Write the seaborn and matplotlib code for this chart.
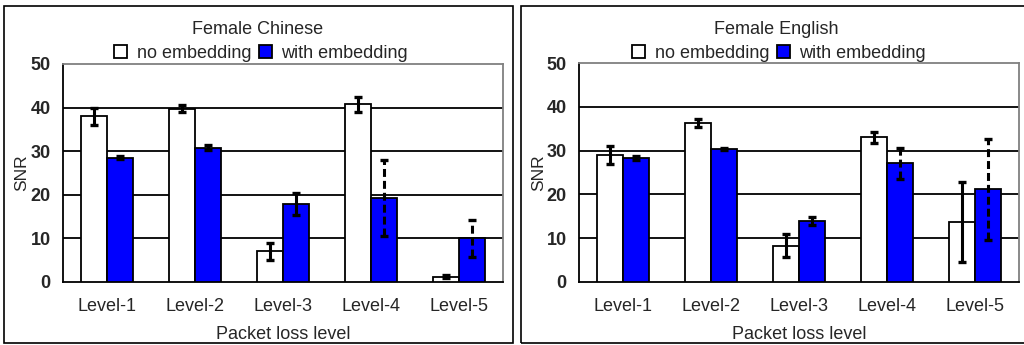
import numpy as np
import pandas as pd
import matplotlib
matplotlib.use("Agg")
import matplotlib.pyplot as plt
from matplotlib.patches import Rectangle, Patch
from matplotlib.ticker import FixedLocator
import seaborn as sns

# ---- data ----
levels = ["Level-1", "Level-2", "Level-3", "Level-4", "Level-5"]
conditions = ["no embedding", "with embedding"]

chinese_no = [38.0, 39.7, 7.0, 40.8, 1.2]
chinese_no_err = [2.0, 0.8, 2.0, 1.7, 0.3]
chinese_with = [28.5, 30.8, 17.9, 19.3, 10.0]
chinese_with_err = [0.4, 0.6, 2.5, 8.7, 4.2]
chinese_with_dashed = [False, False, False, True, True]

english_no = [29.0, 36.3, 8.3, 33.0, 13.7]
english_no_err = [2.1, 0.9, 2.7, 1.2, 9.2]
english_with = [28.3, 30.4, 13.9, 27.1, 21.2]
english_with_err = [0.5, 0.2, 0.9, 3.5, 11.5]
english_with_dashed = [False, False, False, True, True]

titles = ["Female Chinese", "Female English"]
colors = {"no embedding": "#FFFFFF", "with embedding": "#0000FF"}

sns.set_style("white")
plt.rcParams["font.family"] = ["Liberation Sans", "DejaVu Sans"]
FS = 13

W, H = 1024, 345
fig = plt.figure(figsize=(W / 100, H / 100), dpi=100)


def px_axes(x0, y0, x1, y1):
    return fig.add_axes([x0 / W, 1 - y1 / H, (x1 - x0) / W, (y1 - y0) / H])


def draw_panel(ax, no, no_err, wi, wi_err, wi_dashed):
    df = pd.DataFrame({
        "level": levels * 2,
        "cond": [conditions[0]] * len(levels) + [conditions[1]] * len(levels),
        "snr": list(no) + list(wi),
    })
    sns.barplot(data=df, x="level", y="snr", hue="cond", order=levels,
                hue_order=conditions, palette=colors, saturation=1,
                edgecolor="black", linewidth=1.3, width=0.58, errorbar=None,
                legend=False, ax=ax, zorder=3)

    errs = [(no_err, [False] * len(levels)), (wi_err, wi_dashed)]
    for cont, (err, dashed) in zip(ax.containers, errs):
        for bar, e, d in zip(cont, err, dashed):
            xc = bar.get_x() + bar.get_width() / 2
            yv = bar.get_height()
            _, caps, cols = ax.errorbar(xc, yv, yerr=e, fmt="none",
                                        ecolor="black", elinewidth=2.2,
                                        capsize=3.2, capthick=2.4, zorder=4)
            if d:
                cols[0].set_linestyle((0, (2.6, 1.3)))

    ax.set_xlim(-0.5, len(levels) - 0.5)
    ax.set_ylim(0, 50)
    ax.set_yticks([0, 10, 20, 30, 40, 50])
    ax.set_yticklabels(["0", "10", "20", "30", "40", "50"],
                       fontweight="bold", fontsize=FS)
    ax.tick_params(axis="y", length=0, pad=9)
    ax.tick_params(axis="x", which="major", length=0, pad=11.5, labelsize=FS)
    ax.xaxis.set_minor_locator(FixedLocator(np.arange(0.5, len(levels) - 0.5, 1)))
    ax.tick_params(axis="x", which="minor", direction="in", length=5,
                   width=1.3, color="black")

    ax.set_axisbelow(True)
    ax.yaxis.grid(True, color="black", linewidth=1.3)
    for gl, v in zip(ax.get_ygridlines(), ax.get_yticks()):
        if v in (0, 50):
            gl.set_visible(False)
    ax.xaxis.grid(False)

    for side in ("left", "bottom"):
        ax.spines[side].set_color("black")
        ax.spines[side].set_linewidth(1.3)
    for side in ("top", "right"):
        ax.spines[side].set_color("#808080")
        ax.spines[side].set_linewidth(1.3)
    ax.set_facecolor("white")

    ax.set_xlabel("Packet loss level", fontsize=FS, labelpad=8)
    ax.set_ylabel("SNR", fontsize=FS - 0.5, labelpad=0)


panels = [
    dict(box=(3.5, 6, 512.5, 342.5), axes=(63, 64, 503, 282), cx=258,
         data=(chinese_no, chinese_no_err, chinese_with, chinese_with_err,
               chinese_with_dashed)),
    dict(box=(521, 5.5, 1030, 342.5), axes=(579, 63, 1019, 282), cx=776,
         data=(english_no, english_no_err, english_with, english_with_err,
               english_with_dashed)),
]

for p, title in zip(panels, titles):
    bx0, by0, bx1, by1 = p["box"]
    fig.patches.append(Rectangle((bx0 / W, 1 - by1 / H), (bx1 - bx0) / W,
                                 (by1 - by0) / H, transform=fig.transFigure,
                                 fill=False, edgecolor="black", linewidth=1.2))
    ax = px_axes(*p["axes"])
    draw_panel(ax, *p["data"])
    ylab_x = bx0 + 25.5
    ax.yaxis.set_label_coords((ylab_x - p["axes"][0]) / (p["axes"][2] - p["axes"][0]), 0.5)

    fig.text(p["cx"] / W, 1 - 29 / H, title, ha="center", va="center",
             fontsize=FS)
    handles = [Patch(facecolor=colors[c], edgecolor="black", linewidth=1.3,
                     label=c) for c in conditions]
    fig.legend(handles=handles, loc="center",
               bbox_to_anchor=((p["cx"] + 3) / W, 1 - 53 / H), ncol=2,
               frameon=False, fontsize=FS, handlelength=0.72,
               handleheight=0.72, handletextpad=0.55, columnspacing=0.4,
               borderpad=0, borderaxespad=0)

fig.savefig("out.png", dpi=100, facecolor="white")
